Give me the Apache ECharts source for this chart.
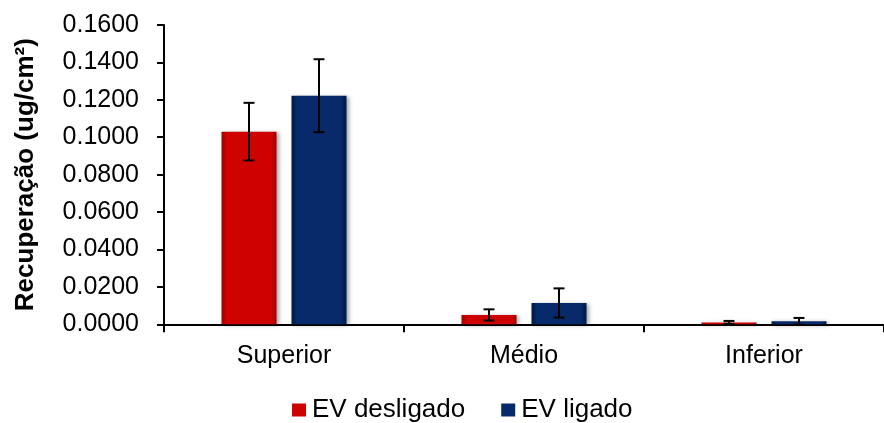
<!DOCTYPE html>
<html>
<head>
<meta charset="utf-8">
<script src="https://cdn.jsdelivr.net/npm/echarts@6/dist/echarts.min.js"></script>
<style>
html,body{margin:0;padding:0;background:#fff;}
#chart{width:884px;height:423px;}
</style>
</head>
<body>
<div id="chart"></div>
<script>
const categories = ['Superior', 'Médio', 'Inferior'];
const seriesNames = ['EV desligado', 'EV ligado'];
const desligado = [0.1030, 0.0050, 0.0010];
const desligadoErr = [0.0154, 0.0030, 0.0008];
const ligado = [0.1222, 0.0114, 0.0016];
const ligadoErr = [0.0195, 0.0078, 0.0018];
const yTicks = [0, 0.02, 0.04, 0.06, 0.08, 0.10, 0.12, 0.14, 0.16];

const FONT = '"Liberation Sans", Arial, sans-serif';
const BAR_W = 55, BAR_GAP = 15;

function bevel(dark, base) {
  return new echarts.graphic.LinearGradient(0, 0, 1, 0, [
    {offset: 0, color: dark},
    {offset: 0.1, color: base},
    {offset: 0.9, color: base},
    {offset: 1, color: dark}
  ]);
}
const redFill = bevel('#9E0000', '#CF0202');
const blueFill = bevel('#001645', '#082A6A');

function errSeries(vals, errs, offset) {
  return {
    type: 'custom',
    z: 10,
    silent: true,
    data: vals.map((v, i) => [i, v, errs[i]]),
    renderItem: function (params, api) {
      const i = api.value(0), v = api.value(1), e = api.value(2);
      const hi = api.coord([i, v + e]);
      const lo = api.coord([i, v - e]);
      const x = hi[0] + offset;
      const cap = 5.5;
      const st = {stroke: '#000', lineWidth: 2};
      return {
        type: 'group',
        children: [
          {type: 'line', shape: {x1: x, y1: hi[1], x2: x, y2: lo[1]}, style: st},
          {type: 'line', shape: {x1: x - cap, y1: hi[1], x2: x + cap, y2: hi[1]}, style: st},
          {type: 'line', shape: {x1: x - cap, y1: lo[1], x2: x + cap, y2: lo[1]}, style: st}
        ]
      };
    }
  };
}

const chart = echarts.init(document.getElementById('chart'), null, {renderer: 'canvas'});
chart.setOption({
  animation: false,
  backgroundColor: '#fff',
  textStyle: {fontFamily: FONT},
  grid: {left: 164, top: 25, width: 734, height: 299.3, containLabel: false},
  legend: {
    data: [
      {name: seriesNames[0], itemStyle: {color: '#CF0202'}},
      {name: seriesNames[1], itemStyle: {color: '#082A6A'}}
    ],
    bottom: -5,
    left: 287,
    icon: 'rect',
    itemWidth: 14,
    itemHeight: 13,
    itemGap: 36,
    textStyle: {fontSize: 26, color: '#000', fontFamily: FONT, padding: [0, 0, 0, 1]}
  },
  xAxis: {
    type: 'category',
    data: categories,
    axisLine: {lineStyle: {color: '#000', width: 2}},
    axisTick: {show: true, length: 8, lineStyle: {color: '#000', width: 2}},
    axisLabel: {fontSize: 25, color: '#000', margin: 19, fontFamily: FONT}
  },
  yAxis: {
    type: 'value',
    min: 0,
    max: 0.16,
    interval: 0.02,
    name: 'Recuperação (ug/cm²)',
    nameLocation: 'middle',
    nameGap: 125,
    nameTextStyle: {fontSize: 26, fontWeight: 'bold', color: '#000', fontFamily: FONT},
    splitLine: {show: false},
    axisLine: {show: true, lineStyle: {color: '#000', width: 2}},
    axisTick: {show: true, length: 7, lineStyle: {color: '#000', width: 2}},
    axisLabel: {
      fontSize: 25, color: '#000', margin: 25, fontFamily: FONT,
      formatter: v => v.toFixed(4)
    }
  },
  series: [
    {
      name: seriesNames[0], type: 'bar', data: desligado,
      barWidth: BAR_W, barGap: (BAR_GAP / BAR_W * 100) + '%',
      itemStyle: {color: redFill, shadowBlur: 4, shadowColor: 'rgba(0,0,0,0.35)', shadowOffsetX: 2, shadowOffsetY: 1}
    },
    {
      name: seriesNames[1], type: 'bar', data: ligado,
      barWidth: BAR_W,
      itemStyle: {color: blueFill, shadowBlur: 4, shadowColor: 'rgba(0,0,0,0.35)', shadowOffsetX: 2, shadowOffsetY: 1}
    },
    errSeries(desligado, desligadoErr, -(BAR_W + BAR_GAP) / 2),
    errSeries(ligado, ligadoErr, (BAR_W + BAR_GAP) / 2)
  ]
});
</script>
</body>
</html>
